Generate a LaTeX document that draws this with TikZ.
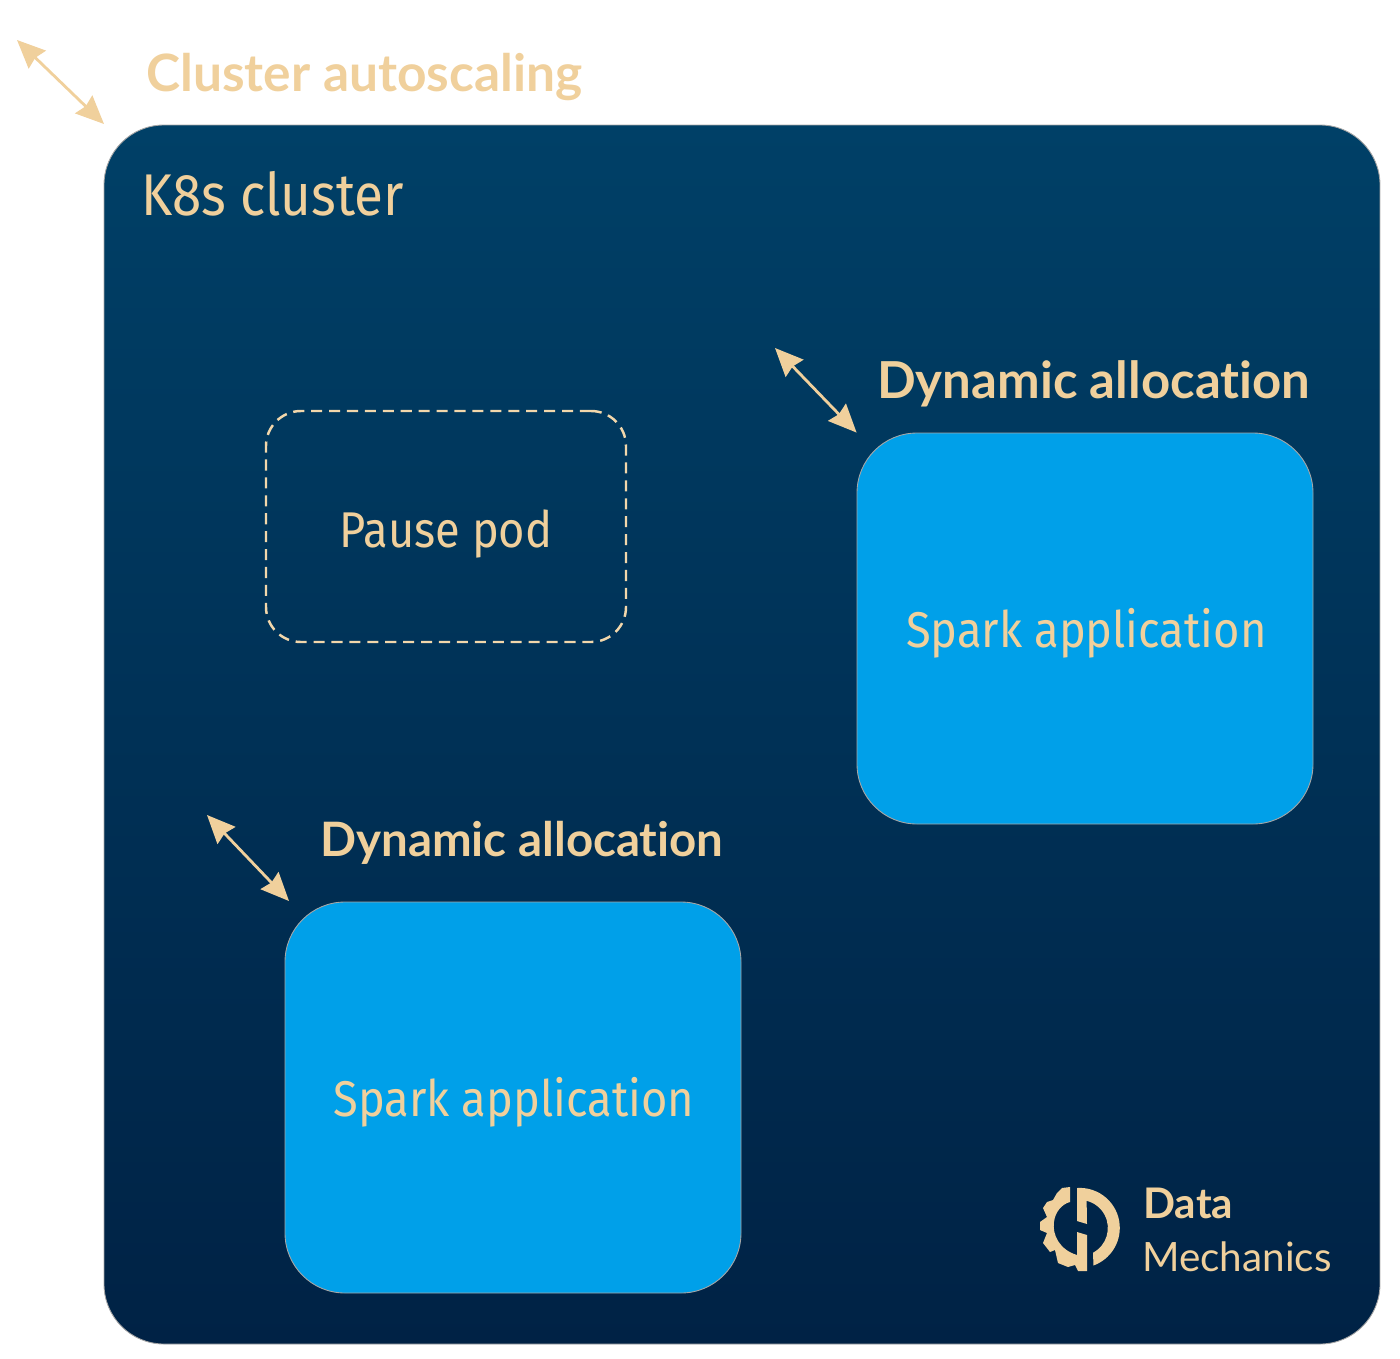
\documentclass[tikz,border=0pt]{standalone}
\usepackage{fontspec}
\setmainfont[FakeStretch=0.9]{Fira Sans}
\newfontfamily\headfont[Ligatures=NoCommon]{Lato}
\usetikzlibrary{arrows.meta}
\definecolor{sandtext}{RGB}{240,208,156}
\definecolor{clustertop}{RGB}{0,64,103}
\definecolor{clusterbot}{RGB}{0,34,69}
\definecolor{sparkblue}{RGB}{0,160,233}
\tikzset{
  podbox/.style={rectangle, rounded corners=60*0.02cm, draw=gray!70, line width=0.5pt, fill=sparkblue,
    minimum width=456*0.02cm, minimum height=391*0.02cm, inner sep=0pt, text=sandtext,
    text height=21.8pt, text depth=0pt, font=\fontsize{28.6}{34}\selectfont},
  scaler/.style={<->, >={Stealth[length=16pt,width=14pt,inset=1.5pt]}, sandtext, line width=1.6pt},
  headlabel/.style={anchor=base west, inner sep=0pt, text=sandtext, font=\headfont\bfseries\fontsize{29}{34}\selectfont},
  bodylabel/.style={anchor=base west, inner sep=0pt, text=sandtext, font=\fontsize{33.5}{40}\selectfont},
}
\begin{document}
\begin{tikzpicture}[x=0.02cm, y=-0.02cm]
  \useasboundingbox (0,0) rectangle (1400,1359);

  % cluster
  \node[rectangle, rounded corners=60*0.02cm, draw=gray!70, line width=0.5pt, top color=clustertop, bottom color=clusterbot,
    minimum width=1276*0.02cm, minimum height=1219*0.02cm, inner sep=0pt] (cluster) at (742,734.5) {};
  \node[bodylabel] (clusterlabel) at (141,215) {K8s cluster};

  % autoscaling
  \coordinate (scaleout) at (17,40);
  \coordinate (scalein) at (104,124);
  \draw[scaler] (scaleout) -- (scalein);
  \node[headlabel, font=\headfont\bfseries\fontsize{29.3}{34}\selectfont] (scalelabel) at (146,91) {Cluster autoscaling};

  % pause pod
  \node[rectangle, rounded corners=35*0.02cm, draw=sandtext!85!white, line width=1.4pt, dash pattern=on 6.3pt off 3.9pt,
    minimum width=360*0.02cm, minimum height=231*0.02cm, inner sep=0pt, text=sandtext,
    text height=23.4pt, text depth=0pt, font=\fontsize{28.6}{34}\selectfont] (pause) at (446,526.5) {Pause pod};

  % spark applications
  \node[podbox] (sparkA) at (1085,628.5) {\hspace{1.5pt}Spark application};
  \node[podbox] (sparkB) at (513,1097.5) {\hspace{1pt}Spark application};

  % dynamic allocation
  \coordinate (dynA) at (775,348);
  \draw[scaler] (dynA) -- (sparkA.north west);
  \node[headlabel] (dynlabelA) at (877,398) {Dynamic allocation};
  \coordinate (dynB) at (207,815);
  \coordinate (dynBend) at (289,901);
  \draw[scaler] (dynB) -- (dynBend);
  \node[headlabel, font=\headfont\bfseries\fontsize{27}{32}\selectfont] (dynlabelB) at (320,856) {Dynamic allocation};

  % logo
  \fill[sandtext] (1077,1188) arc[start angle=-94, end angle=70, radius=40]
    -- (1093,1252.7) arc[start angle=62, end angle=-76, radius=28] -- (1087,1224) -- (1077,1221) -- cycle;
  \fill[sandtext] (1070,1187) -- (1062,1188) -- (1057,1193) -- (1053,1200) -- (1047,1202) -- (1043,1208)
    -- (1047,1217) -- (1040,1222) -- (1040,1230) -- (1047,1233) -- (1043,1243) -- (1050,1252) -- (1055,1250)
    -- (1058,1263) -- (1068,1267) -- (1075,1265) -- (1078,1271) -- (1087,1271) -- (1087,1235) -- (1077,1232)
    -- (1077,1255) .. controls (1060,1250) and (1052,1235) .. (1054,1222)
    .. controls (1055,1212) and (1062,1204) .. (1070,1202) -- cycle;
  \node[headlabel, font=\headfont\bfseries\fontsize{24}{28}\selectfont] (logotop) at (1143,1218) {Data};
  \node[headlabel, font=\headfont\fontsize{23}{28}\selectfont] (logobot) at (1142,1271) {Mechanics};
\end{tikzpicture}
\end{document}
